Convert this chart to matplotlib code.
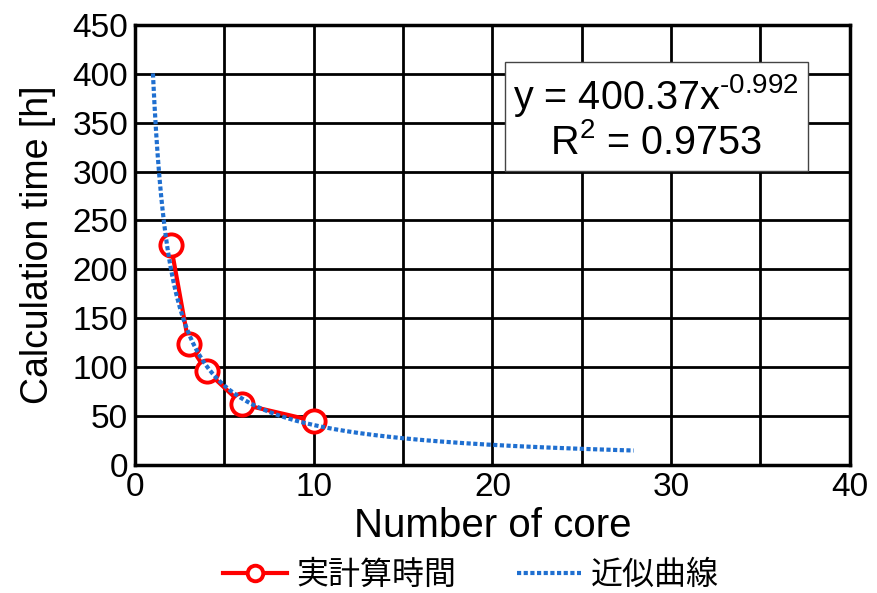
import matplotlib

matplotlib.use("Agg")

import matplotlib.pyplot as plt
import numpy as np

plt.rcParams["font.family"] = ["Liberation Sans", "Noto Sans CJK JP", "DejaVu Sans"]

# measured calculation time per core count
cores = [2, 3, 4, 6, 10]
hours = [225, 124, 96, 62, 45]

# power trendline shown in the chart (y = a * x^b)
FIT_A = 400.37
FIT_B = -0.992
FIT_R2 = 0.9753
fit_x_range = (1.0, 27.9)

x_ticks = [0, 10, 20, 30, 40]
y_ticks = [0, 50, 100, 150, 200, 250, 300, 350, 400, 450]

fig = plt.figure(figsize=(8.77, 5.93), dpi=100)
ax = fig.add_axes([0.154, 0.216, 0.815, 0.742])

fit_x = np.linspace(fit_x_range[0], fit_x_range[1], 300)
fit_y = FIT_A * fit_x ** FIT_B

ax.plot(cores, hours, color="#ff0000", lw=3, marker="o", ms=16,
        mfc="white", mec="#ff0000", mew=2.8, label="実計算時間", zorder=3)
ax.plot(fit_x, fit_y, color="#1f6fd0", lw=3, ls=(0, (1, 0.6)),
        label="近似曲線", zorder=4)

ax.set_xlim(0, 40)
ax.set_ylim(0, 450)
ax.set_xticks(x_ticks)
ax.set_yticks(y_ticks)
ax.set_xticks(np.arange(0, 41, 5), minor=True)
ax.grid(True, which="both", color="black", lw=2)
ax.set_axisbelow(True)
ax.tick_params(which="both", length=0, labelsize=24, pad=5)
for s in ax.spines.values():
    s.set_linewidth(2.5)
    s.set_color("black")

ax.set_xlabel("Number of core", fontsize=29, labelpad=3)
ax.set_ylabel("Calculation time [h]", fontsize=27, labelpad=12)

eq = "y = 400.37x$^{\\mathregular{\u2010%.3f}}$" % abs(FIT_B)
r2 = "R$^{\\mathregular{2}}$ = %.4f" % FIT_R2
ax.text(0.729, 0.79, eq + "\n" + r2,
        transform=ax.transAxes, ha="center", va="center", fontsize=28.5,
        linespacing=1.12, zorder=6,
        bbox=dict(boxstyle="square,pad=0.22", fc="white", ec="#444444", lw=1))

fig.legend(loc="lower center", bbox_to_anchor=(0.537, -0.045), ncol=2,
           frameon=False, fontsize=23, handlelength=2.0, columnspacing=1.9,
           handletextpad=0.3, markerscale=0.7)

fig.savefig("out.png", dpi=100)
